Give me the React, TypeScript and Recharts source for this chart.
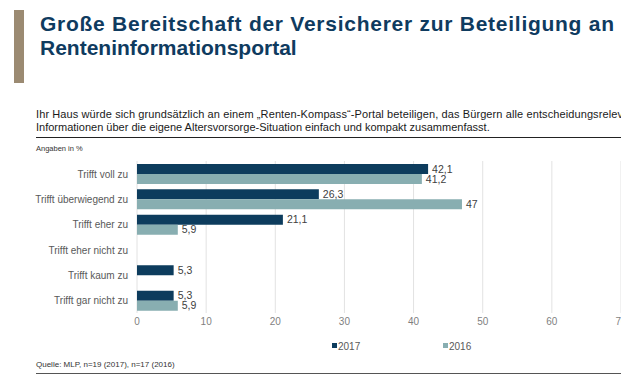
import React from 'react'
import { BarChart, Bar, XAxis, YAxis, CartesianGrid, LabelList } from 'recharts'

const categories = [
  'Trifft voll zu',
  'Trifft überwiegend zu',
  'Trifft eher zu',
  'Trifft eher nicht zu',
  'Trifft kaum zu',
  'Trifft gar nicht zu',
]
const values2017 = [42.1, 26.3, 21.1, null, 5.3, 5.3]
const values2016 = [41.2, 47, 5.9, null, null, 5.9]
const xTicks = [0, 10, 20, 30, 40, 50, 60, 70]

const seriesNames = ['2017', '2016']
const DARK = '#0d3c5d'
const LIGHT = '#88aeb1'
const FONT = '"Liberation Sans", Arial, sans-serif'

const data = categories.map((name, i) => ({ name, v2017: values2017[i], v2016: values2016[i] }))

const fmt = (v: any) => (v == null ? '' : String(v).replace('.', ','))

function CategoryTick({ x, y, payload }: any) {
  return (
    <text x={x} y={y} dy={4} textAnchor="end" fontSize={10} fill="#595959" fontFamily={FONT}>
      {payload.value}
    </text>
  )
}

export default function App() {
  return (
    <div
      style={{
        position: 'fixed',
        left: 0,
        top: 0,
        width: 621,
        height: 383,
        overflow: 'hidden',
        background: '#fff',
        fontFamily: FONT,
      }}
    >
      <svg width={621} height={383} style={{ position: 'absolute', left: 0, top: 0 }}>
        <rect x={14} y={10} width={10} height={73} fill="#9b8a72" />
        <text
          x={40}
          y={31}
          fontSize={21}
          fontWeight="bold"
          fill="#0f3b5f"
          fontFamily={FONT}
          textLength={574}
          lengthAdjust="spacing"
        >
          Große Bereitschaft der Versicherer zur Beteiligung an
        </text>
        <text x={40} y={55} fontSize={21} fontWeight="bold" fill="#0f3b5f" fontFamily={FONT}>
          Renteninformationsportal
        </text>
        <text
          x={36}
          y={118}
          fontSize={11}
          fill="#1a1a1a"
          fontFamily={FONT}
          textLength={615}
          lengthAdjust="spacing"
        >
          Ihr Haus würde sich grundsätzlich an einem „Renten-Kompass“-Portal beteiligen, das Bürgern alle entscheidungsrelevanten
        </text>
        <text x={36} y={131} fontSize={11} fill="#1a1a1a" fontFamily={FONT}>
          Informationen über die eigene Altersvorsorge-Situation einfach und kompakt zusammenfasst.
        </text>
        <line x1={36} x2={621} y1={137.5} y2={137.5} stroke="#222" strokeWidth={1} />
        <text x={36} y={151} fontSize={7.5} fill="#333" fontFamily={FONT}>
          Angaben in %
        </text>

        <rect x={332} y={343} width={5} height={5} fill={DARK} />
        <text x={338} y={349.5} fontSize={10} fill="#595959" fontFamily={FONT}>
          {seriesNames[0]}
        </text>
        <rect x={443} y={343} width={5} height={5} fill={LIGHT} />
        <text x={449} y={349.5} fontSize={10} fill="#595959" fontFamily={FONT}>
          {seriesNames[1]}
        </text>

        <text x={36} y={367} fontSize={8} fill="#333" fontFamily={FONT}>
          Quelle: MLP, n=19 (2017), n=17 (2016)
        </text>
        <line x1={36} x2={621} y1={373.5} y2={373.5} stroke="#555" strokeWidth={1} />
      </svg>

      <div style={{ position: 'absolute', left: 0, top: 150 }}>
        <BarChart
          width={660}
          height={200}
          data={data}
          layout="vertical"
          margin={{ top: 11, right: 39, left: 0, bottom: 0 }}
          barGap={0}
          barSize={10}
        >
          <CartesianGrid horizontal={false} stroke="#e2e2e2" />
          <XAxis
            type="number"
            domain={[0, 70]}
            ticks={xTicks}
            axisLine={false}
            tickLine={false}
            tickSize={0}
            tickMargin={5}
            height={37}
            tick={{ fill: '#7f7f7f', fontSize: 10, fontFamily: FONT }}
          />
          <YAxis
            type="category"
            dataKey="name"
            width={137}
            axisLine={false}
            tickLine={false}
            tickSize={0}
            tickMargin={9}
            tick={<CategoryTick />}
          />
          <Bar dataKey="v2017" name={seriesNames[0]} fill={DARK} isAnimationActive={false}>
            <LabelList
              dataKey="v2017"
              position="right"
              offset={4}
              formatter={fmt}
              style={{ fill: '#404040', fontSize: 10.5, fontFamily: FONT }}
            />
          </Bar>
          <Bar dataKey="v2016" name={seriesNames[1]} fill={LIGHT} isAnimationActive={false}>
            <LabelList
              dataKey="v2016"
              position="right"
              offset={4}
              formatter={fmt}
              style={{ fill: '#404040', fontSize: 10.5, fontFamily: FONT }}
            />
          </Bar>
        </BarChart>
      </div>
    </div>
  )
}
